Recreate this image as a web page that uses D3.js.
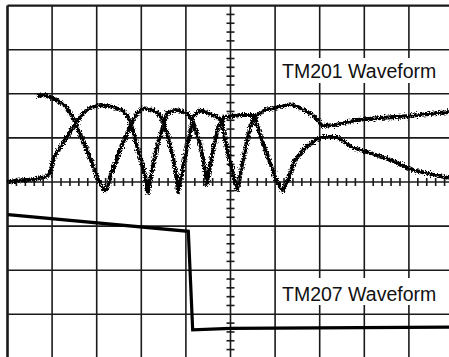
<!DOCTYPE html>
<html>
<head>
<meta charset="utf-8">
<script src="https://cdn.jsdelivr.net/npm/d3@7"></script>
<style>
  html, body { margin: 0; padding: 0; background: #fff; }
  svg { display: block; }
</style>
</head>
<body>
<div id="chart"></div>
<script>
// ---- Data (graticule divisions: x 0..10, y -4..4) ----
const xDivisions = [0,1,2,3,4,5,6,7,8,9,10];
const yDivisions = [-4,-3,-2,-1,0,1,2,3,4];

// TM201 trace A (starts high)
const tm201A_x = [0.661,0.841,0.953,1.087,1.244,1.334,1.446,1.558,1.738,1.895,2.007,2.119,2.186,2.253,2.298,2.522,2.747,2.904,3.038,3.262,3.419,3.576,3.711,3.778,3.823,3.890,3.935,4.092,4.159,4.316,4.608,4.809,4.877,5.011,5.101,5.146,5.191,5.325,5.437,5.527,5.774,6.110,6.357,6.670,6.895,7.052,7.343,7.836,8.352,9.025,9.899];
const tm201A_y = [1.950,1.973,1.927,1.859,1.769,1.678,1.497,1.247,0.839,0.431,0.113,-0.113,-0.204,-0.091,0.113,0.726,1.247,1.565,1.678,1.633,1.519,1.111,0.567,0.159,-0.227,0.091,0.340,1.111,1.474,1.633,1.519,1.406,0.952,0.385,0.000,-0.181,0.000,0.726,1.224,1.474,1.633,1.701,1.769,1.633,1.474,1.270,1.293,1.406,1.451,1.497,1.587];

// TM201 trace B (starts low)
const tm201B_x = [0.011,0.168,0.392,0.617,0.841,0.953,1.020,1.132,1.244,1.469,1.693,1.850,2.074,2.365,2.590,2.702,2.814,2.926,3.038,3.105,3.150,3.195,3.262,3.352,3.487,3.576,3.800,4.025,4.137,4.316,4.428,4.473,4.518,4.608,4.720,4.854,5.213,5.527,5.706,5.886,6.022,6.177,6.267,6.446,6.670,6.917,7.052,7.388,7.567,7.702,8.128,8.599,9.081,9.899];
const tm201B_y = [0.000,0.023,0.045,0.068,0.113,0.181,0.499,0.726,0.884,1.247,1.565,1.678,1.746,1.701,1.633,1.474,1.179,0.726,0.340,0.045,-0.249,0.000,0.385,0.794,1.247,1.565,1.633,1.565,1.406,0.884,0.272,-0.045,0.227,0.726,1.224,1.474,1.519,1.519,0.952,0.431,0.045,-0.204,0.000,0.499,0.771,0.952,1.020,1.020,0.907,0.794,0.658,0.499,0.272,0.091];

// TM207 step trace
const tm207_x = [0.011,4.054,4.152,5.0,9.9];
const tm207_y = [-0.74,-1.118,-3.35,-3.32,-3.29];

const labels = ["TM201 Waveform", "TM207 Waveform"];

// ---- Drawing ----
const W = 449, H = 357;
const svg = d3.select("#chart").append("svg").attr("width", W).attr("height", H);

const x = d3.scaleLinear().domain([0, 10]).range([7.5, 453.5]);
const y = d3.scaleLinear().domain([-4, 4]).range([358.4, 5.6]);

const defs = svg.append("defs");
const f = defs.append("filter").attr("id", "noisy")
  .attr("x", "-5%").attr("y", "-20%").attr("width", "110%").attr("height", "140%");
f.append("feTurbulence").attr("type", "fractalNoise").attr("baseFrequency", "0.7")
  .attr("numOctaves", 2).attr("seed", 3).attr("result", "t");
f.append("feDisplacementMap").attr("in", "SourceGraphic").attr("in2", "t")
  .attr("scale", 6).attr("xChannelSelector", "R").attr("yChannelSelector", "G");

const grid = svg.append("g");
grid.selectAll("line.v").data(xDivisions).join("line")
  .attr("x1", d => x(d)).attr("x2", d => x(d))
  .attr("y1", y(4)).attr("y2", y(-4))
  .attr("stroke", "#1a1a1a")
  .attr("stroke-width", d => d === 0 ? 2.6 : 1.6);
grid.selectAll("line.h").data(yDivisions).join("line")
  .attr("x1", x(0)).attr("x2", x(10))
  .attr("y1", d => y(d)).attr("y2", d => y(d))
  .attr("stroke", "#1a1a1a")
  .attr("stroke-width", d => d === 4 ? 2.4 : 1.6);

// minor ticks on centre axes
const minorX = d3.range(0, 50).map(i => i / 5).filter(v => v % 1 !== 0);
const minorY = d3.range(-20, 21).map(i => i / 5).filter(v => Math.abs(v % 1) > 1e-9);
grid.selectAll("line.mx").data(minorX).join("line")
  .attr("x1", d => x(d)).attr("x2", d => x(d))
  .attr("y1", y(0) - 4).attr("y2", y(0) + 4)
  .attr("stroke", "#1a1a1a").attr("stroke-width", 1.6);
grid.selectAll("line.my").data(minorY).join("line")
  .attr("y1", d => y(d)).attr("y2", d => y(d))
  .attr("x1", x(5) - 4).attr("x2", x(5) + 4)
  .attr("stroke", "#1a1a1a").attr("stroke-width", 1.6);

// labels with white backing
const labelPos = [{tx: 282, ty: 77.5, bx: 279, by: 58, bw: 168, bh: 25},
                  {tx: 282, ty: 300.5, bx: 279, by: 278, bw: 168, bh: 27}];
labels.forEach((t, i) => {
  const p = labelPos[i];
  svg.append("rect").attr("x", p.bx).attr("y", p.by).attr("width", p.bw).attr("height", p.bh).attr("fill", "#fff");
  svg.append("text").attr("x", p.tx).attr("y", p.ty)
    .attr("font-family", "Liberation Sans, Arial, sans-serif")
    .attr("font-size", 19.5).attr("fill", "#111").text(t);
});

const line = d3.line().x(d => x(d[0])).y(d => y(d[1]));
const zip = (a, b) => a.map((v, i) => [v, b[i]]);

svg.append("path").datum(zip(tm201A_x, tm201A_y)).attr("d", line)
  .attr("fill", "none").attr("stroke", "#000").attr("stroke-width", 3.8)
  .attr("stroke-linejoin", "round").attr("filter", "url(#noisy)");
svg.append("path").datum(zip(tm201B_x, tm201B_y)).attr("d", line)
  .attr("fill", "none").attr("stroke", "#000").attr("stroke-width", 3.8)
  .attr("stroke-linejoin", "round").attr("filter", "url(#noisy)");
svg.append("path").datum(zip(tm207_x, tm207_y)).attr("d", line)
  .attr("fill", "none").attr("stroke", "#000").attr("stroke-width", 3.2)
  .attr("stroke-linejoin", "miter");
</script>
</body>
</html>
